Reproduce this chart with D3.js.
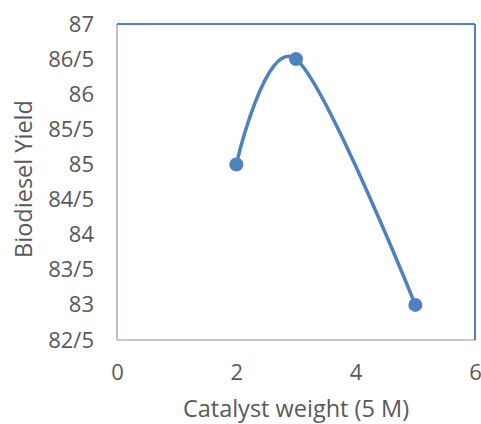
<!DOCTYPE html>
<html><head><meta charset="utf-8">
<script src="https://cdn.jsdelivr.net/npm/d3@7"></script>
<style>body{margin:0;background:#fff}svg{display:block}</style>
</head><body>
<svg id="c" width="481" height="424"></svg>
<script>
const xValues = [2, 3, 5];
const yValues = [85, 86.5, 83];
const xTicks = [0, 2, 4, 6];
const yTicks = [82.5, 83, 83.5, 84, 84.5, 85, 85.5, 86, 86.5, 87];
const yTickLabels = ["82/5","83","83/5","84","84/5","85","85/5","86","86/5","87"];
const xTitle = "Catalyst weight (5 M)";
const yTitle = "Biodiesel Yield";

const svg = d3.select("#c");
const L = 117, R = 475, T = 24, B = 340;
const x = d3.scaleLinear().domain([0, 6]).range([L, R]);
const y = d3.scaleLinear().domain([82.5, 87]).range([B, T]);
const font = "'Open Sans', sans-serif";
const tc = "#595959";

// plot frame: left/bottom gray, top/right blue
svg.append("line").attr("x1", L).attr("x2", L).attr("y1", T).attr("y2", B).attr("stroke", "#b7c0cc").attr("stroke-width", 2);
svg.append("line").attr("x1", L).attr("x2", R).attr("y1", B).attr("y2", B).attr("stroke", "#c4c9d0").attr("stroke-width", 2);
svg.append("line").attr("x1", L).attr("x2", R).attr("y1", T).attr("y2", T).attr("stroke", "#4f81bd").attr("stroke-width", 2);
svg.append("line").attr("x1", R).attr("x2", R).attr("y1", T).attr("y2", B).attr("stroke", "#4f81bd").attr("stroke-width", 2);

// axes (tick labels only)
const yAxis = d3.axisLeft(y).tickValues(yTicks).tickSize(0).tickPadding(23)
  .tickFormat((d, i) => yTickLabels[i]);
const gy = svg.append("g").attr("transform", `translate(${L},0)`).call(yAxis);
gy.select(".domain").remove();
gy.selectAll("text").attr("font-family", font).attr("font-size", 22).attr("fill", tc);

const xAxis = d3.axisBottom(x).tickValues(xTicks).tickSize(0).tickPadding(24).tickFormat(d3.format("d"));
const gx = svg.append("g").attr("transform", `translate(0,${B})`).call(xAxis);
gx.select(".domain").remove();
gx.selectAll("text").attr("font-family", font).attr("font-size", 22).attr("fill", tc);

// titles
svg.append("text").attr("x", 296).attr("y", 417).attr("text-anchor", "middle")
  .attr("font-family", font).attr("font-size", 23.5).attr("fill", tc).text(xTitle);
svg.append("text").attr("transform", "translate(32,179) rotate(-90)").attr("text-anchor", "middle")
  .attr("font-family", font).attr("font-size", 23.5).attr("fill", tc).text(yTitle);

// series
const pts = xValues.map((v, i) => [v, yValues[i]]);
const line = d3.line().x(d => x(d[0])).y(d => y(d[1])).curve(d3.curveCardinal.tension(0));
svg.append("path").attr("d", line(pts)).attr("fill", "none").attr("stroke", "#4f81bd").attr("stroke-width", 3.5);
svg.selectAll("circle.pt").data(pts).enter().append("circle").attr("class", "pt")
  .attr("cx", d => x(d[0])).attr("cy", d => y(d[1])).attr("r", 7).attr("fill", "#4f81bd");
</script>
</body></html>
